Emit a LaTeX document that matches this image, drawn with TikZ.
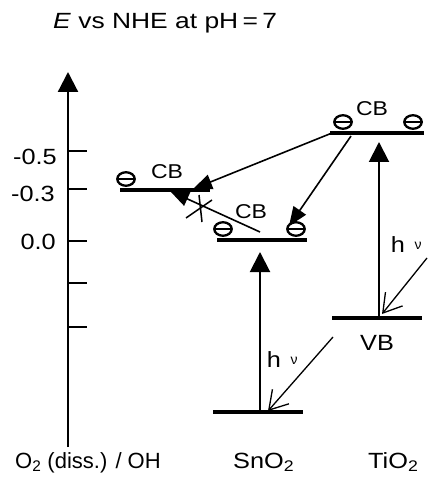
\documentclass[tikz,border=0pt]{standalone}
\usepackage{fontspec}
\setmainfont{Liberation Sans}
\usetikzlibrary{arrows.meta,shapes.geometric}
\newcommand\wt[1]{\scalebox{1.15}[1]{#1}}
\begin{document}
\begin{tikzpicture}[x=1pt,y=-1pt,
  lbl/.style={inner sep=0pt, font=\fontsize{22}{26}\selectfont},
  cblbl/.style={inner sep=0pt, font=\fontsize{20}{24}\selectfont},
  nulbl/.style={inner sep=0pt, font=\fontsize{14}{16}\selectfont},
  levelline/.style={line width=4.5pt},
  elec/.style={ellipse, draw, line width=2.3pt, minimum width=17.5pt, minimum height=13.5pt, inner sep=0pt, fill=white,
    path picture={\draw[line width=1.8pt] (path picture bounding box.west) -- (path picture bounding box.east);}},
  bigarrow/.style={line width=2pt, -{Triangle[length=20pt,width=20pt]}},
  transfer/.style={line width=1.6pt, -{Triangle[length=19pt,width=15pt]}},
  photon/.style={line width=1.3pt, -{Straight Barb[length=18pt,width=22pt,line width=1.3pt]}},
  tickline/.style={line width=2pt},
  crossline/.style={line width=1.5pt}]
\useasboundingbox (0,0) rectangle (431,494);
% title
\node[lbl, anchor=base west] (title) at (53,29) {\scalebox{1.2}[1]{\textit{E} vs NHE at pH\,=\,7}};
% axis
\coordinate (ax0) at (68,447);
\coordinate (ax1) at (68,72);
\draw[bigarrow, line width=2.2pt] (ax0) -- (ax1);
\foreach \y in {151,189,241,283,327} \draw[tickline] (67,\y) -- (87,\y);
\node[lbl, anchor=east] (t05) at (57,157) {\wt{-0.5}};
\node[lbl, anchor=east] (t03) at (55,194) {\wt{-0.3}};
\node[lbl, anchor=east] (t00) at (56,242) {\wt{0.0}};
% levels
\coordinate (o2L) at (120,190); \coordinate (o2R) at (210,190);
\coordinate (snL) at (217,240); \coordinate (snR) at (307,240);
\coordinate (tiL) at (330,133); \coordinate (tiR) at (424,133);
\coordinate (snvL) at (213,412); \coordinate (snvR) at (303,412);
\coordinate (tivL) at (332,318); \coordinate (tivR) at (422,318);
\draw[levelline] (o2L) -- (o2R);
\draw[levelline] (snL) -- (snR);
\draw[levelline] (tiL) -- (tiR);
\draw[levelline] (snvL) -- (snvR);
\draw[levelline] (tivL) -- (tivR);
% electrons
\node[elec] (e1) at (126,179) {};
\node[elec] (e2) at (223,229) {};
\node[elec] (e3) at (296,229) {};
\node[elec] (e4) at (343,122) {};
\node[elec] (e5) at (413,122) {};
% band labels
\node[cblbl] (cb1) at (167,172) {\wt{CB}};
\node[cblbl] (cb2) at (251,212) {\wt{CB}};
\node[cblbl] (cb3) at (372,109) {\wt{CB}};
\node[lbl] (vb) at (377,343) {\wt{VB}};
% excitation arrows
\coordinate (snv) at (260,412); \coordinate (snc) at (260,252);
\coordinate (tiv) at (379,318); \coordinate (tic) at (379,142);
\draw[bigarrow] (snv) -- (snc);
\draw[bigarrow] (tiv) -- (tic);
% photons
\coordinate (ph1s) at (333,337); \coordinate (ph1e) at (268,411);
\coordinate (ph2s) at (427,258); \coordinate (ph2e) at (382,314);
\draw[photon] (ph1s) -- (ph1e);
\draw[photon] (ph2s) -- (ph2e);
\node[lbl] (h1) at (274,360) {\wt{h}};
\node[nulbl] (nu1) at (294,361) {ν};
\node[lbl] (h2) at (398,245) {\wt{h}};
\node[nulbl] (nu2) at (418,246) {ν};
% transfers
\coordinate (t1s) at (332,133); \coordinate (t1e) at (193,189);
\coordinate (t2s) at (351,136); \coordinate (t2e) at (289,226);
\coordinate (t3s) at (260,232); \coordinate (t3e) at (170,191);
\draw[transfer] (t1s) -- (t1e);
\draw[transfer] (t2s) -- (t2e);
\draw[transfer] (t3s) -- (t3e);
% cross
\coordinate (cx1a) at (186,218); \coordinate (cx1b) at (212,200);
\coordinate (cx2a) at (199,195); \coordinate (cx2b) at (202,222);
\draw[crossline] (cx1a) -- (cx1b);
\draw[crossline] (cx2a) -- (cx2b);
% bottom labels
\node[lbl, anchor=base west] (lo2) at (15,468) {O\textsubscript{2} (diss.) / OH};
\node[lbl, anchor=base west] (lsn) at (233,468) {\wt{SnO\textsubscript{2}}};
\node[lbl, anchor=base west] (lti) at (368,468) {\wt{TiO\textsubscript{2}}};
\end{tikzpicture}
\end{document}
